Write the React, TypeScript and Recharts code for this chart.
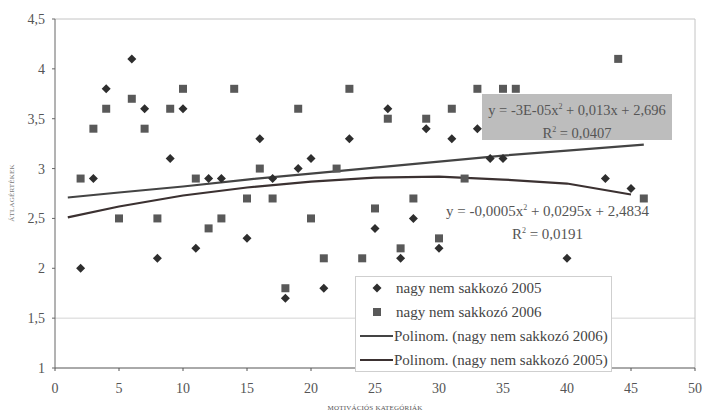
import React from 'react';
import { ComposedChart, Scatter, Line, XAxis, YAxis, ReferenceLine } from 'recharts';

const x2005 = [2, 3, 4, 6, 7, 8, 9, 10, 11, 12, 13, 15, 16, 17, 18, 19, 20, 21, 23, 25, 26, 27, 28, 29, 30, 31, 33, 34, 35, 40, 43, 45];
const y2005 = [2.0, 2.9, 3.8, 4.1, 3.6, 2.1, 3.1, 3.6, 2.2, 2.9, 2.9, 2.3, 3.3, 2.9, 1.7, 3.0, 3.1, 1.8, 3.3, 2.4, 3.6, 2.1, 2.5, 3.4, 2.2, 3.3, 3.4, 3.1, 3.1, 2.1, 2.9, 2.8];

const x2006 = [2, 3, 4, 5, 6, 7, 8, 9, 10, 11, 12, 13, 14, 15, 16, 17, 18, 19, 20, 21, 22, 23, 24, 25, 26, 27, 28, 29, 30, 31, 32, 33, 35, 36, 44, 46];
const y2006 = [2.9, 3.4, 3.6, 2.5, 3.7, 3.4, 2.5, 3.6, 3.8, 2.9, 2.4, 2.5, 3.8, 2.7, 3.0, 2.7, 1.8, 3.6, 2.5, 2.1, 3.0, 3.8, 2.1, 2.6, 3.5, 2.2, 2.7, 3.5, 2.3, 3.6, 2.9, 3.8, 3.8, 3.8, 4.1, 2.7];

// trend lines
const trendX2006 = [1, 5, 10, 15, 20, 25, 30, 35, 40, 46];
const trendY2006 = [2.71, 2.76, 2.82, 2.89, 2.95, 3.01, 3.07, 3.13, 3.18, 3.24];
const trendX2005 = [1, 5, 10, 15, 20, 25, 30, 35, 40, 45];
const trendY2005 = [2.51, 2.62, 2.73, 2.81, 2.87, 2.91, 2.92, 2.89, 2.85, 2.74];

const xTicks = [0, 5, 10, 15, 20, 25, 30, 35, 40, 45, 50];
const yTicks = [1, 1.5, 2, 2.5, 3, 3.5, 4, 4.5];

const legendLabels = [
  'nagy nem sakkozó 2005',
  'nagy nem sakkozó 2006',
  'Polinom. (nagy nem sakkozó 2006)',
  'Polinom. (nagy nem sakkozó 2005)',
];

const zip = (xs: number[], ys: number[]) => xs.map((x, i) => ({ x, y: ys[i] }));
const d2005 = zip(x2005, y2005);
const d2006 = zip(x2006, y2006);
const t2006 = zip(trendX2006, trendY2006);
const t2005 = zip(trendX2005, trendY2005);

const FONT = '"Liberation Serif", "DejaVu Serif", serif';

const Diamond = (props: any) => {
  const { cx, cy } = props;
  if (cx == null || cy == null) return null;
  const r = 4.5;
  return <path d={`M${cx},${cy - r}L${cx + r},${cy}L${cx},${cy + r}L${cx - r},${cy}Z`} fill="#2e2e2e" />;
};
const Square = (props: any) => {
  const { cx, cy } = props;
  if (cx == null || cy == null) return null;
  const s = 8;
  return <rect x={cx - s / 2} y={cy - s / 2} width={s} height={s} fill="#595959" />;
};

const fmt = (v: number) => String(v).replace('.', ',');

export default function App() {
  return (
    <div style={{ position: 'absolute', left: 0, top: 0, width: 704, height: 414, background: '#fff', fontFamily: FONT }}>
      <ComposedChart width={704} height={414} margin={{ top: 19, right: 9, bottom: 0, left: 0 }}>
        <XAxis
          dataKey="x"
          type="number"
          domain={[0, 50]}
          ticks={xTicks}
          height={46}
          allowDuplicatedCategory={false}
          stroke="#555"
          tickSize={3}
          tickMargin={12}
          tick={{ fill: '#555', fontSize: 14, fontFamily: FONT }}
        />
        <YAxis
          dataKey="y"
          type="number"
          domain={[1, 4.5]}
          ticks={yTicks}
          width={55}
          stroke="#666"
          tickSize={3}
          tickMargin={7}
          tickFormatter={fmt}
          tick={{ fill: '#555', fontSize: 14, fontFamily: FONT }}
        />
        <ReferenceLine y={1.5} stroke="#d4d4d4" strokeWidth={1} />
        <ReferenceLine y={4.5} stroke="#c4c4c4" strokeWidth={1} />
        <ReferenceLine x={50} stroke="#c4c4c4" strokeWidth={1} />
        <Line data={t2006} dataKey="y" stroke="#444" strokeWidth={2.2} dot={false} isAnimationActive={false} />
        <Line data={t2005} dataKey="y" stroke="#3b3131" strokeWidth={2.2} dot={false} isAnimationActive={false} />
        <Scatter data={d2006} dataKey="y" shape={Square} isAnimationActive={false} />
        <Scatter data={d2005} dataKey="y" shape={Diamond} isAnimationActive={false} />
      </ComposedChart>

      {/* Y axis title */}
      <div style={{ position: 'absolute', left: 12, top: 193, transform: 'translate(-50%, -50%) rotate(-90deg)', fontSize: 7, color: '#777', whiteSpace: 'nowrap', letterSpacing: 0.2 }}>
        ÁTLAGÉRTÉKEK
      </div>
      {/* X axis title */}
      <div style={{ position: 'absolute', left: 375, top: 408, transform: 'translate(-50%, -50%)', fontSize: 7, color: '#555', whiteSpace: 'nowrap', letterSpacing: 0.2 }}>
        MOTIVÁCIÓS KATEGÓRIÁK
      </div>

      {/* Equation 2006 */}
      <div style={{ position: 'absolute', left: 482, top: 94, width: 190, height: 46, background: '#bdbdbd', color: '#555', fontSize: 14.5, textAlign: 'center', lineHeight: '19px', paddingTop: 3, boxSizing: 'border-box', whiteSpace: 'nowrap' }}>
        <div>y = -3E-05x<sup style={{ fontSize: 8 }}>2</sup> + 0,013x + 2,696</div>
        <div>R<sup style={{ fontSize: 8 }}>2</sup> = 0,0407</div>
      </div>
      {/* Equation 2005 */}
      <div style={{ position: 'absolute', left: 440, top: 198, width: 215, color: '#555', fontSize: 15, textAlign: 'center', lineHeight: '20px', whiteSpace: 'nowrap' }}>
        <div>y = -0,0005x<sup style={{ fontSize: 8 }}>2</sup> + 0,0295x + 2,4834</div>
        <div>R<sup style={{ fontSize: 8 }}>2</sup> = 0,0191</div>
      </div>

      {/* Legend */}
      <div style={{ position: 'absolute', left: 355, top: 276, width: 257, height: 96, background: '#fff', border: '1px solid #cfcfcf', boxSizing: 'border-box', color: '#444', fontSize: 15 }}>
        {legendLabels.map((label, i) => (
          <div key={label} style={{ position: 'absolute', left: 0, top: 0 + i * 24, height: 22, display: 'flex', alignItems: 'center', whiteSpace: 'nowrap' }}>
            <svg width={38} height={22} style={{ display: 'block' }}>
              {i === 0 && <path d="M21,6.5L25.5,11L21,15.5L16.5,11Z" fill="#2e2e2e" />}
              {i === 1 && <rect x={17} y={7} width={8} height={8} fill="#595959" />}
              {i === 2 && <line x1={4} y1={11} x2={37} y2={11} stroke="#444" strokeWidth={2} />}
              {i === 3 && <line x1={4} y1={11} x2={37} y2={11} stroke="#3b3131" strokeWidth={2} />}
            </svg>
            <span style={{ marginLeft: i < 2 ? 2 : 0 }}>{label}</span>
          </div>
        ))}
      </div>
    </div>
  );
}
